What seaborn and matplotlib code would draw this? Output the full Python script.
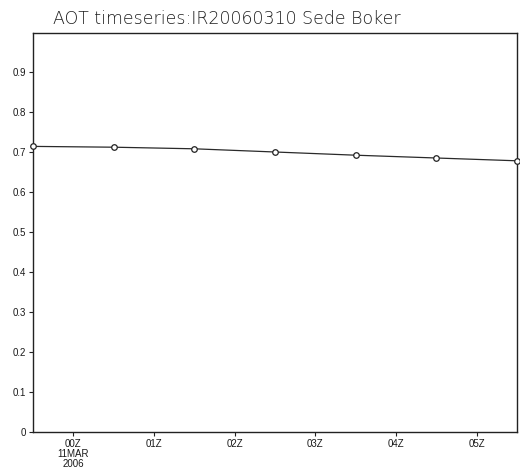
import pandas as pd
import matplotlib
matplotlib.use("Agg")
import matplotlib.pyplot as plt
import seaborn as sns

# Datos (horas UTC desde 00Z 11MAR2006)
hours = [-0.5, 0.5, 1.5, 2.5, 3.5, 4.5, 5.5]
aot = [0.714, 0.712, 0.708, 0.700, 0.692, 0.685, 0.678]
tick_pos = [0, 1, 2, 3, 4, 5]
tick_labels = ["00Z\n11MAR\n2006", "01Z", "02Z", "03Z", "04Z", "05Z"]
y_ticks = [0, 0.1, 0.2, 0.3, 0.4, 0.5, 0.6, 0.7, 0.8, 0.9]
y_labels = ["0", "0.1", "0.2", "0.3", "0.4", "0.5", "0.6", "0.7", "0.8", "0.9"]


def main():
    sns.set_style("ticks")
    plt.rcParams['font.family'] = ['Liberation Sans', 'DejaVu Sans']
    data = pd.DataFrame({'hora': hours, 'aot': aot})

    fig = plt.figure(figsize=(5.2, 4.68), dpi=100)
    ax = fig.add_axes([33 / 520, 1 - 432 / 468, 484 / 520, 399 / 468])

    sns.lineplot(data=data, x='hora', y='aot', ax=ax, color='#2a2a2a',
                 linewidth=0.9, marker='o', markersize=4,
                 markerfacecolor='white', markeredgecolor='#222222',
                 markeredgewidth=0.9, clip_on=False, zorder=3)

    ax.set_xlim(-0.5, 5.5)
    ax.set_ylim(0, 0.9975)
    ax.set_xticks(tick_pos)
    ax.set_xticklabels(tick_labels, fontsize=7, linespacing=1.0)
    ax.set_yticks(y_ticks)
    ax.set_yticklabels(y_labels, fontsize=7)
    ax.tick_params(axis='both', length=3, width=0.8, color='#222222',
                   labelcolor='#1a1a1a', pad=2)
    ax.set_xlabel('')
    ax.set_ylabel('')
    for s in ax.spines.values():
        s.set_visible(True)
        s.set_linewidth(1.0)
        s.set_color('#222222')

    # titulo con fuente fina
    fig.text(53 / 520, 1 - 24 / 468, 'AOT timeseries:IR20060310 Sede Boker',
             fontsize=12.5, color='#1e1e1e', family='DejaVu Sans',
             weight='light', va='baseline', ha='left')

    plt.savefig('out.png', dpi=100)


if __name__ == "__main__":
    main()
